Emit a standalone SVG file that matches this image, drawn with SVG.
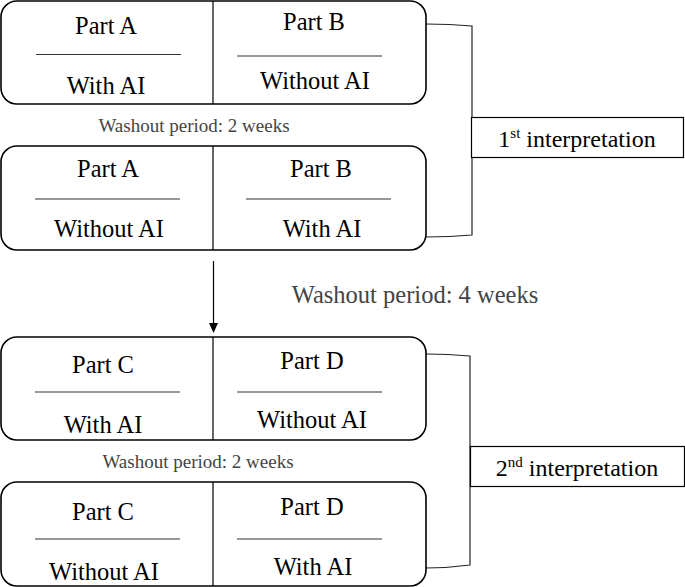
<svg xmlns="http://www.w3.org/2000/svg" width="685" height="587" viewBox="0 0 685 587">
<style>
text{font-family:"Liberation Serif","DejaVu Serif",serif}
.box{fill:#fff;stroke:#000;stroke-width:1.6}
.div{stroke:#000;stroke-width:1.2}
.sep{stroke:#333;stroke-width:1.2}
.t{font-size:24.5px;fill:#000;text-anchor:middle}
.w{font-size:19px;fill:#444;text-anchor:middle}
.w4{font-size:24.5px;fill:#444;text-anchor:middle}
.br{fill:none;stroke:#222;stroke-width:1.2}
.ib{fill:#fff;stroke:#000;stroke-width:1.2}
.it{font-size:24px;fill:#000;text-anchor:middle}
</style>
<g id="connectors">
<path class="br" d="M426,24 Q450,24 472,26 L472,235 Q450,237 426,237"/>
<path class="br" d="M426,354 Q448,354 470,356 L470,565 Q448,568 426,568"/>
<line x1="213.5" y1="261" x2="213.5" y2="327" stroke="#000" stroke-width="1.2"/>
<path d="M209,323 L218,323 L213.5,333 Z" fill="#000"/>
</g>
<g id="box1">
<rect class="box" x="1" y="1" width="425" height="103" rx="16"/>
<line class="div" x1="213" y1="1" x2="213" y2="104"/>
<text class="t" x="106" y="34">Part A</text>
<line class="sep" x1="36" y1="54.5" x2="181" y2="54.5"/>
<text class="t" x="106" y="94">With AI</text>
<text class="t" x="314" y="30">Part B</text>
<line class="sep" x1="237" y1="56" x2="382" y2="56"/>
<text class="t" x="315" y="89">Without AI</text>
</g>
<text class="w" x="194" y="132">Washout period: 2 weeks</text>
<g id="box2">
<rect class="box" x="1" y="146" width="425" height="104" rx="16"/>
<line class="div" x1="213" y1="146" x2="213" y2="250"/>
<text class="t" x="108" y="177">Part A</text>
<line class="sep" x1="35" y1="199" x2="180" y2="199"/>
<text class="t" x="109" y="237">Without AI</text>
<text class="t" x="321" y="177">Part B</text>
<line class="sep" x1="246" y1="199" x2="391" y2="199"/>
<text class="t" x="322" y="237">With AI</text>
</g>
<g id="interp1">
<rect class="ib" x="471.5" y="117.5" width="212" height="40"/>
<text class="it" x="577" y="147">1<tspan font-size="15" dy="-9">st</tspan><tspan dy="9"> interpretation</tspan></text>
</g>
<text class="w4" x="415" y="303">Washout period: 4 weeks</text>
<g id="box3">
<rect class="box" x="1" y="337" width="425" height="103" rx="16"/>
<line class="div" x1="213" y1="337" x2="213" y2="440"/>
<text class="t" x="103" y="373">Part C</text>
<line class="sep" x1="35" y1="392" x2="180" y2="392"/>
<text class="t" x="103" y="433">With AI</text>
<text class="t" x="312" y="369">Part D</text>
<line class="sep" x1="237" y1="392" x2="382" y2="392"/>
<text class="t" x="312" y="428">Without AI</text>
</g>
<text class="w" x="198" y="468">Washout period: 2 weeks</text>
<g id="box4">
<rect class="box" x="1" y="482" width="425" height="104" rx="16"/>
<line class="div" x1="213" y1="482" x2="213" y2="586"/>
<text class="t" x="103" y="520">Part C</text>
<line class="sep" x1="35" y1="539" x2="180" y2="539"/>
<text class="t" x="104" y="580">Without AI</text>
<text class="t" x="312" y="515">Part D</text>
<line class="sep" x1="237" y1="539" x2="382" y2="539"/>
<text class="t" x="313" y="575">With AI</text>
</g>
<g id="interp2">
<rect class="ib" x="470.5" y="446.5" width="214" height="40"/>
<text class="it" x="577" y="476">2<tspan font-size="15" dy="-9">nd</tspan><tspan dy="9"> interpretation</tspan></text>
</g>
</svg>
